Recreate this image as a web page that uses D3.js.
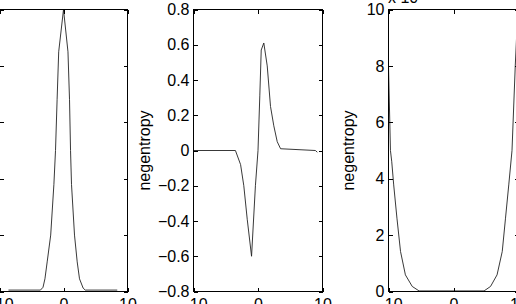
<!DOCTYPE html>
<html>
<head>
<meta charset="utf-8">
<script src="https://cdn.jsdelivr.net/npm/d3@7"></script>
<style>
  body { margin: 0; background: #fff; }
  svg { display: block; }
  text { font-family: "Liberation Sans", Arial, Helvetica, sans-serif; }
</style>
</head>
<body>
<div id="wrapper"></div>
<script>
// shared x ticks
const xTicks = [-10, 0, 10];

// left panel: density peak (y labels cut off in the picture)
const peakX = [-8.6, -3.6, -3.2, -2.9, -2.55, -2.0, -1.5, -1.25, -1.0, -0.75, 0, 0.7, 0.94, 1.1, 1.25, 1.72, 2.14, 2.5, 3.07, 3.4, 8.4];
const peakY = [0.005, 0.005, 0.015, 0.045, 0.105, 0.2, 0.38, 0.5, 0.68, 0.85, 1.0, 0.85, 0.68, 0.5, 0.38, 0.2, 0.105, 0.045, 0.012, 0.005, 0.005];
const peakTicks = [0, 0.2, 0.4, 0.6, 0.8, 1];

// middle panel: negentropy, odd shape
const oddX = [-10, -3.5, -2.7, -2.2, -1.67, -1.0, -0.4, 0.0, 0.28, 0.5, 0.9, 1.43, 1.94, 2.45, 2.98, 3.5, 8.9, 9.2];
const oddY = [0, 0, -0.08, -0.2, -0.39, -0.6, -0.2, 0, 0.31, 0.57, 0.61, 0.48, 0.25, 0.14, 0.05, 0.01, 0, -0.01];
const oddTicks = [-0.8, -0.6, -0.4, -0.2, 0, 0.2, 0.4, 0.6, 0.8];

// right panel: negentropy x 10^-3, bowl shape
const bowlX = [-10, -9.7, -9.5, -9.2, -8.7, -8.15, -7.4, -6.35, -5.3, 4.7, 5.7, 6.7, 7.5, 8.0, 8.5, 9.0, 9.5, 10];
const bowlY = [8.0, 5.0, 4.6, 3.78, 2.6, 1.42, 0.59, 0.18, 0.02, 0.02, 0.18, 0.59, 1.42, 2.6, 3.78, 5.0, 8.0, 10.5];
const bowlTicks = [0, 2, 4, 6, 8, 10];

const width = 516, height = 304;
const plotTop = 9.5, plotBottom = 291.5;
const fontSize = 16;

const svg = d3.select("#wrapper").append("svg")
    .attr("width", width)
    .attr("height", height);

function drawPanel(p) {
    const x = d3.scaleLinear().domain([-10, 10]).range([p.left, p.right]);
    const y = d3.scaleLinear().domain(p.yDomain).range([plotBottom, plotTop]);

    const clipId = "clip" + p.name;
    svg.append("clipPath").attr("id", clipId)
        .append("rect")
        .attr("x", p.left).attr("y", plotTop - 1)
        .attr("width", p.right - p.left).attr("height", plotBottom - plotTop + 2);

    svg.append("path")
        .datum(p.xs.map((v, i) => [v, p.ys[i]]))
        .attr("clip-path", `url(#${clipId})`)
        .attr("fill", "none")
        .attr("stroke", "#222")
        .attr("stroke-width", 0.9)
        .attr("d", d3.line().x(d => x(d[0])).y(d => y(d[1])));

    const style = g => {
        g.select(".domain").remove();
        g.selectAll("line").attr("stroke", "#000").attr("shape-rendering", "crispEdges");
        g.selectAll("text").attr("font-size", fontSize).attr("fill", "#000");
    };

    svg.append("g")
        .attr("transform", `translate(0,${plotBottom})`)
        .call(d3.axisBottom(x).tickValues(xTicks).tickSize(-4).tickPadding(7).tickFormat(d3.format("d")))
        .call(style);
    svg.append("g")
        .attr("transform", `translate(0,${plotTop})`)
        .call(d3.axisTop(x).tickValues(xTicks).tickSize(-4).tickFormat(""))
        .call(style);
    svg.append("g")
        .attr("transform", `translate(${p.left},0)`)
        .call(d3.axisLeft(y).tickValues(p.yTicks).tickSize(-4).tickPadding(4).tickFormat(p.yFormat))
        .call(style);
    svg.append("g")
        .attr("transform", `translate(${p.right},0)`)
        .call(d3.axisRight(y).tickValues(p.yTicks).tickSize(-4).tickFormat(""))
        .call(style);

    svg.append("rect")
        .attr("x", p.left).attr("y", plotTop)
        .attr("width", p.right - p.left).attr("height", plotBottom - plotTop)
        .attr("fill", "none")
        .attr("stroke", "#000")
        .attr("shape-rendering", "crispEdges");

    if (p.ylabel) {
        svg.append("text")
            .attr("transform", `translate(${p.labelX},${(plotTop + plotBottom) / 2}) rotate(-90)`)
            .attr("text-anchor", "middle")
            .attr("font-size", fontSize)
            .text(p.ylabel);
    }
}

drawPanel({
    name: "a", left: -0.5, right: 127.5, yDomain: [0, 1],
    xs: peakX, ys: peakY, yTicks: peakTicks, yFormat: () => ""
});
drawPanel({
    name: "b", left: 193.5, right: 322.5, yDomain: [-0.8, 0.8],
    xs: oddX, ys: oddY, yTicks: oddTicks, yFormat: d => d === 0 ? "0" : d3.format(".1f")(d),
    ylabel: "negentropy", labelX: 150
});
drawPanel({
    name: "c", left: 388.5, right: 518.5, yDomain: [0, 10],
    xs: bowlX, ys: bowlY, yTicks: bowlTicks, yFormat: d3.format("d"),
    ylabel: "negentropy", labelX: 354
});

// exponent label above right panel
const expo = svg.append("text")
    .attr("x", 388)
    .attr("y", 3)
    .attr("font-size", fontSize)
    .text("x 10");
expo.append("tspan").attr("dy", -6).attr("font-size", 11).text("−3");
</script>
</body>
</html>
